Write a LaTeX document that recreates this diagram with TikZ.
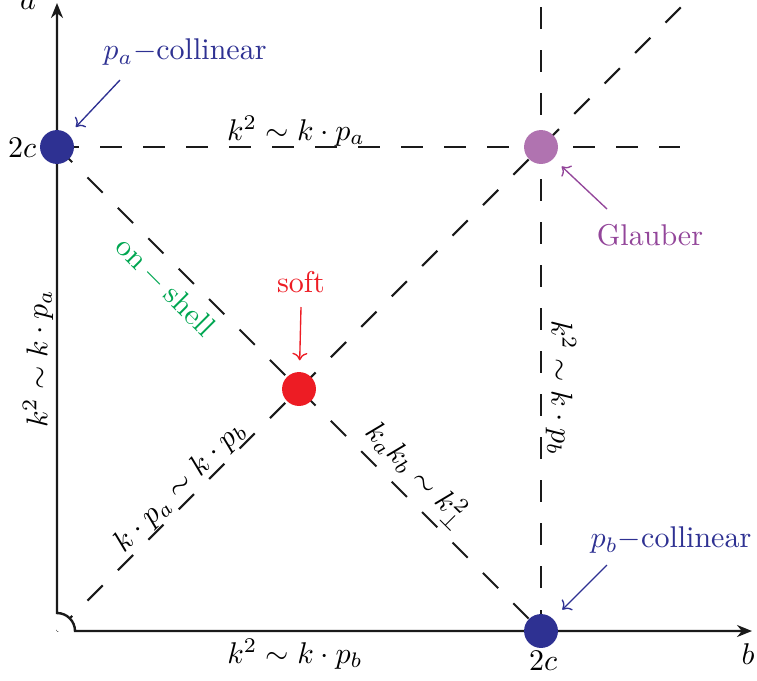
\documentclass[tikz,border=0pt]{standalone}
\usepackage{tikz}
\usetikzlibrary{arrows.meta, positioning, calc}
\definecolor{regBlue}{HTML}{2E3192}
\definecolor{regRed}{HTML}{ED1C24}
\definecolor{regGreen}{HTML}{00A651}
\definecolor{regPurple}{HTML}{93469A}
\definecolor{regPurpleLight}{HTML}{B073B0}
\definecolor{regLine}{HTML}{1A1A1A}

\begin{document}
\begin{tikzpicture}[
    x=0.3333pt, y=0.3333pt,
    axis/.style={line width=0.8pt, draw=regLine},
    regline/.style={line width=0.7pt, draw=regLine, dash pattern=on 7.17pt off 7.17pt},
    regdot/.style={circle, inner sep=0pt, minimum size=11.3pt},
    lbl/.style={inner sep=1pt},
    ptr/.style={line width=0.45pt, -{To[length=2.5pt, width=5pt]}}
]
\useasboundingbox (-57,-49) rectangle (700,631);

% === Corner points ===
\coordinate (O) at (0,0);
\coordinate (pA) at (0,484);
\coordinate (pG) at (484,484);
\coordinate (pS) at (242,242);
\coordinate (pB) at (484,0);
\coordinate (hend) at (623,484);
\coordinate (vend) at (484,626);
\coordinate (dend) at (625,625);

% === Dashed region boundaries ===
\draw[regline] (pA) -- (hend);
\draw[regline] (pB) -- (vend);
\draw[regline] (O) -- (dend);
\draw[regline] (pA) -- (pB);

% === Axes ===
\fill[white] (O) -- (0,18) arc[start angle=90, end angle=0, radius=18] -- cycle;
\draw[axis, {Stealth[length=5pt, width=4pt]}-{Stealth[length=5pt, width=4pt]}]
    (0,628) -- (0,18) arc[start angle=90, end angle=0, radius=18] -- (695,0);
\node[lbl] (lblA) at (-29,628) {$a$};
\node[lbl] (lblB) at (691,-23) {$b$};

% === Regions ===
\node[regdot, fill=regBlue] (A) at (pA) {};
\node[regdot, fill=regPurpleLight] (G) at (pG) {};
\node[regdot, fill=regRed] (S) at (pS) {};
\node[regdot, fill=regBlue] (B) at (pB) {};

\node[lbl] (twocA) at (-35,483) {$2c$};
\node[lbl] (twocB) at (486,-30) {$2c$};

% === Scaling relations ===
\node[lbl] (relTop) at (239,500) {$k^2\sim k\cdot p_a$};
\node[lbl] (relBot) at (238,-23) {$k^2\sim k\cdot p_b$};
\node[lbl, rotate=90] (relLeft) at (-19,272) {$k^2\sim k\cdot p_a$};
\node[lbl, rotate=-90] (relRight) at (504,243) {$k^2\sim k\cdot p_b$};
\node[lbl, rotate=45] (relDiag) at (123,144) {$k\cdot p_a\sim k\cdot p_b$};
\node[lbl, rotate=-45] (relAnti) at (360,156) {$k_a k_b\sim k_\perp^2$};
\node[lbl, rotate=-45, text=regGreen] (onshell) at (108,344) {$\mathrm{on}-\mathrm{shell}$};

% === Mode labels ===
\node[lbl, text=regBlue] (palab) at (128,579) {$p_a{-}$collinear};
\node[lbl, text=regBlue] (pblab) at (614,91) {$p_b{-}$collinear};
\node[lbl, text=regPurple] (glab) at (593,396) {Glauber};
\node[lbl, text=regRed] (slab) at (244,349) {soft};

\draw[ptr, regBlue, shorten >=3.3pt] ($(palab)+(-65,-28)$) -- (A);
\draw[ptr, regBlue, shorten >=4.2pt] ($(pblab)+(-64,-25)$) -- (B);
\draw[ptr, regPurple, shorten >=3.6pt] ($(glab)+(-43,26)$) -- (G);
\draw[ptr, regRed, shorten >=3.7pt] ($(slab)+(0,-25)$) -- (S);

\end{tikzpicture}
\end{document}
